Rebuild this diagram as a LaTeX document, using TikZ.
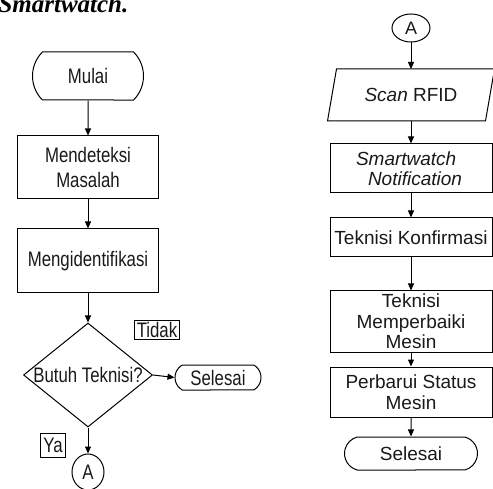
\documentclass[tikz,border=0pt]{standalone}
\usepackage{fontspec}
\setmainfont{Liberation Sans}
\newfontfamily\narrowfont[FakeStretch=0.8]{Liberation Sans}
\newfontfamily\titlefont{Liberation Serif}
\usetikzlibrary{shapes.geometric,shapes.misc,arrows.meta}
\begin{document}
\begin{tikzpicture}[x=1pt,y=-1pt,
  line width=1pt,
  arr/.style={-{Triangle[length=7pt,width=6pt]}},
  lfont/.style={font=\narrowfont\fontsize{21}{25}\selectfont, text=black!90},
  rfont/.style={font=\fontsize{19}{20.5}\selectfont, text=black!90},
  lbox/.style={draw, rectangle, minimum width=141pt, align=center, inner sep=0pt, lfont},
  rbox/.style={draw, rectangle, minimum width=162pt, align=center, inner sep=0pt, rfont},
  term/.style={draw, rounded rectangle, inner sep=0pt},
  tag/.style={draw, inner xsep=2.5pt, inner ysep=0pt, lfont},
]
\useasboundingbox (0,0) rectangle (493,489);
\begin{scope}
\clip (0,0) rectangle (493,489);
\node[anchor=base west, inner sep=0pt, font=\titlefont\bfseries\itshape\fontsize{25}{28}\selectfont] (title) at (-2,13) {Smartwatch.};

% left column
\node[term, rounded rectangle arc length=90, minimum width=111pt, minimum height=48pt, lfont] (mulai) at (88,76) {Mulai};
\node[lbox, minimum height=63pt] (detect) at (88,167.5) {Mendeteksi\\Masalah};
\node[lbox, minimum height=64pt] (ident) at (88,261) {Mengidentifikasi};
\node[draw, diamond, minimum width=129pt, minimum height=104pt, inner sep=0pt, lfont] (dia) at (88,375) {\makebox[0pt]{Butuh Teknisi?}};
\node[tag, minimum height=18pt] (tidak) at (157,330) {Tidak};
\node[term, rounded rectangle arc length=120, minimum width=86pt, minimum height=25pt, lfont] (sel1) at (218,377.5) {Selesai};
\node[tag, minimum height=24pt] (ya) at (53,445) {Ya};
\node[draw, ellipse, minimum width=32pt, minimum height=36pt, inner sep=0pt, lfont] (a1) at (88,472) {A};

\draw[arr] (mulai) -- (detect);
\draw[arr] (detect) -- (ident);
\draw[arr] (ident) -- (dia);
\draw[arr] (dia.east) -- (sel1.west);
\draw[arr] (dia.south) -- (a1.north);

% right column
\node[draw, ellipse, minimum width=38pt, minimum height=28pt, inner sep=0pt, rfont, font=\fontsize{18}{19}\selectfont] (a2) at (411,28) {A};
\node[rectangle, minimum width=157pt, minimum height=51pt, inner sep=0pt, rfont] (scan) at (411,95) {\textit{Scan} RFID};
\draw ([xshift=4.5pt]scan.north west) -- ([xshift=4.5pt]scan.north east)
  -- ([xshift=-4.5pt]scan.south east) -- ([xshift=-4.5pt]scan.south west) -- cycle;
\node[rbox, minimum height=49pt, align=left] (smart) at (411,168.5) {\textit{Smartwatch}\\\hspace*{12pt}\textit{Notification}\hspace*{4pt}};
\node[rbox, minimum height=39pt] (konf) at (411,237.5) {Teknisi Konfirmasi};
\node[rbox, minimum height=61pt] (perb) at (411,321.5) {Teknisi\\Memperbaiki\\Mesin};
\node[rbox, minimum height=50pt] (status) at (411,392) {Perbarui Status\\Mesin};
\node[term, rounded rectangle arc length=150, minimum width=133pt, minimum height=33pt, rfont] (sel2) at (411,453.5) {Selesai};

\draw[arr] (a2) -- (scan);
\draw[arr] (scan) -- (smart);
\draw[arr] (smart) -- (konf);
\draw[arr] (konf) -- (perb);
\draw[arr] (perb) -- (status);
\draw[arr] (status) -- (sel2);
\end{scope}
\end{tikzpicture}
\end{document}
